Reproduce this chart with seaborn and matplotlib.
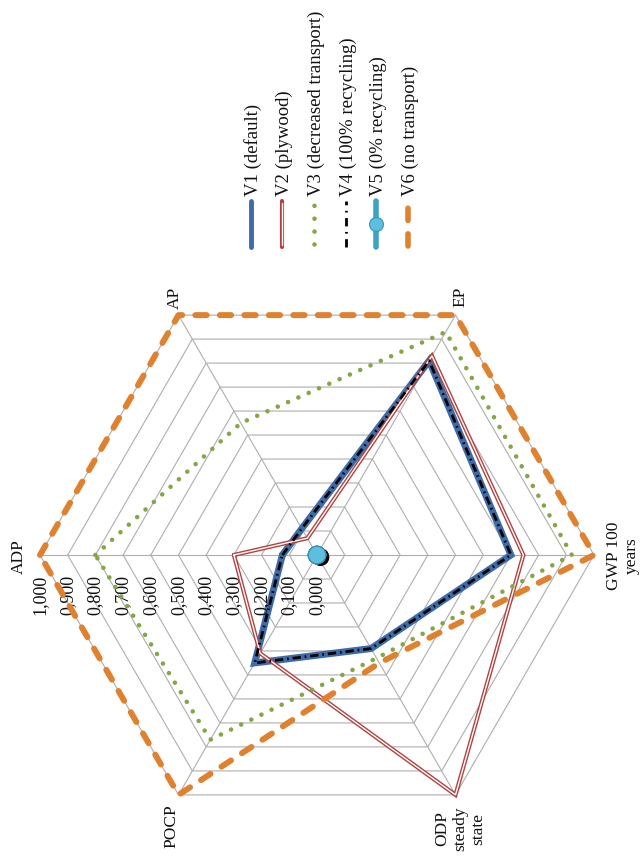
import matplotlib
matplotlib.use("Agg")
import matplotlib.pyplot as plt
import matplotlib.patheffects as pe
import numpy as np
import pandas as pd
import seaborn as sns

# ---------------- data ----------------
categories = ["ADP", "AP", "EP", "GWP 100\nyears", "ODP\nsteady\nstate", "POCP"]
series_names = ["V1 (default)", "V2 (plywood)", "V3 (decreased transport)",
                "V4 (100% recycling)", "V5 (0% recycling)", "V6 (no transport)"]
v1_default = [0.125, 0.11, 0.81, 0.70, 0.39, 0.45]
v2_plywood = [0.30, 0.07, 0.83, 0.745, 1.00, 0.41]
v3_decreased_transport = [0.80, 0.55, 0.93, 0.92, 0.43, 0.77]
v4_recycling_100 = [0.125, 0.11, 0.81, 0.70, 0.39, 0.45]
v5_recycling_0 = [0.0, 0.0, 0.0, 0.0, 0.0, 0.0]
v6_no_transport = [1.00, 1.00, 1.00, 1.00, 0.45, 1.00]
tick_values = [0.0, 0.1, 0.2, 0.3, 0.4, 0.5, 0.6, 0.7, 0.8, 0.9, 1.0]
tick_labels = ["0,000", "0,100", "0,200", "0,300", "0,400", "0,500",
               "0,600", "0,700", "0,800", "0,900", "1,000"]

# ---------------- style ----------------
sns.set_theme(style="white")
plt.rcParams["font.family"] = ["Liberation Serif", "DejaVu Serif"]
FAM = ["Liberation Serif", "DejaVu Serif"]

BLUE = "#3D6CA8"
RED = "#B3423F"
GREEN = "#84A645"
BLACK = "#000000"
TEAL = "#3FA3BF"
ORANGE = "#E0812F"
GRID = "#AEAEAE"

fig = plt.figure(figsize=(6.42, 8.6), dpi=100)
fig.patch.set_facecolor("white")
ax = fig.add_axes([40 / 642, (860 - 555 - 277) / 860, 554 / 642, 554 / 860],
                  projection="polar")
ax.set_theta_zero_location("W")
ax.set_theta_direction(-1)
ax.set_ylim(0, 1)
ax.set_xticks([])
ax.set_yticks([])
ax.grid(False)
ax.spines["polar"].set_visible(False)
ax.patch.set_visible(False)

n = len(categories)
angles = np.arange(n) * 2 * np.pi / n
closed = np.append(angles, 2 * np.pi)

# hexagonal grid
for r in tick_values[1:]:
    ax.plot(closed, [r] * (n + 1), color=GRID, lw=0.8, zorder=1, clip_on=False)
for a in angles:
    ax.plot([a, a], [0, 1], color=GRID, lw=0.8, zorder=1, clip_on=False)


def close(vals):
    return list(vals) + [vals[0]]


def draw(vals, zorder, **kw):
    df = pd.DataFrame({"theta": closed, "r": close(vals)})
    sns.lineplot(data=df, x="theta", y="r", ax=ax, sort=False, estimator=None,
                 legend=False, zorder=zorder, clip_on=False, **kw)
    return ax.lines[-1]


# V1
draw(v1_default, 3, color=BLUE, lw=5.0, solid_joinstyle="miter")
# V2 double line
draw(v2_plywood, 4, color=RED, lw=3.0, solid_joinstyle="miter")
draw(v2_plywood, 4.1, color="white", lw=1.0, solid_joinstyle="miter")
# V3 dotted
l3 = draw(v3_decreased_transport, 5, color=GREEN, lw=3.3)
l3.set_linestyle((0, (0.01, 2.45)))
l3.set_dash_capstyle("round")
# V4 dash-dot
l4 = draw(v4_recycling_100, 6, color=BLACK, lw=2.0)
l4.set_linestyle((0, (3.0, 1.4, 0.6, 1.4)))
# V5 marker at centre
l5 = draw(v5_recycling_0, 7, color=TEAL, lw=0.0, marker="o", markersize=12.5,
          markerfacecolor="#5DBFDD", markeredgecolor="#3A93B3", markeredgewidth=0.8)
l5.set_path_effects([pe.SimplePatchShadow(offset=(2.5, -1.5), shadow_rgbFace="black",
                                          alpha=0.45), pe.Normal()])
# V6 dashed
l6 = draw(v6_no_transport, 8, color=ORANGE, lw=4.3)
l6.set_linestyle((0, (1.9, 2.2)))
l6.set_dash_capstyle("round")
ax.set_xlabel("")
ax.set_ylabel("")

# radial tick labels along ADP axis
for v, lab in zip(tick_values, tick_labels):
    ax.annotate(lab, xy=(angles[0], v), xytext=(0, -20), textcoords="offset pixels",
                rotation=90, ha="center", va="top", fontsize=13, color="#111111",
                family=FAM, annotation_clip=False)

# category labels
offsets = [(-21, -2), (-4, 17), (5, 18), (29, -1), (5, -34), (-7, -31)]
for a, cat, off in zip(angles, categories, offsets):
    ax.annotate(cat, xy=(a, 1.0), xytext=off, textcoords="offset pixels",
                rotation=90, ha="center", va="center", multialignment="center",
                fontsize=12.5, color="#111111", family=FAM, annotation_clip=False,
                linespacing=1.15)

# ---------------- rotated legend ----------------
lax = fig.add_axes([0, 0, 1, 1])
lax.set_xlim(0, 642)
lax.set_ylim(860, 0)
lax.axis("off")
lax.patch.set_visible(False)
leg_x = [251, 282, 314, 346, 376, 408]
ly = [247, 201]
lax.plot([leg_x[0]] * 2, ly, color=BLUE, lw=3.5, solid_capstyle="round")
lax.plot([leg_x[1]] * 2, ly, color=RED, lw=3.0, solid_capstyle="round")
lax.plot([leg_x[1]] * 2, [245, 203], color="white", lw=1.0)
g = lax.plot([leg_x[2]] * 2, [244, 202], color=GREEN, lw=3.3)[0]
g.set_linestyle((0, (0.01, 2.8)))
g.set_dash_capstyle("round")
b = lax.plot([leg_x[3]] * 2, ly, color=BLACK, lw=2.0)[0]
b.set_linestyle((0, (3.0, 2.0, 0.6, 2.0)))
lax.plot([leg_x[4]] * 2, ly, color=TEAL, lw=4.0, solid_capstyle="round")
lax.plot([leg_x[4]], [224], marker="o", markersize=10, markerfacecolor="#5DBFDD",
         markeredgecolor="#3A93B3", markeredgewidth=0.8, lw=0)
o = lax.plot([leg_x[5]] * 2, [246, 201], color=ORANGE, lw=4.0)[0]
o.set_linestyle((0, (2.2, 2.4)))
o.set_dash_capstyle("round")
for x, name in zip(leg_x, series_names):
    lax.text(x + 2, 196, name, rotation=90, ha="center", va="bottom",
             fontsize=13.5, color="#111111", family=FAM)

fig.savefig("out.png", dpi=100, facecolor="white")
